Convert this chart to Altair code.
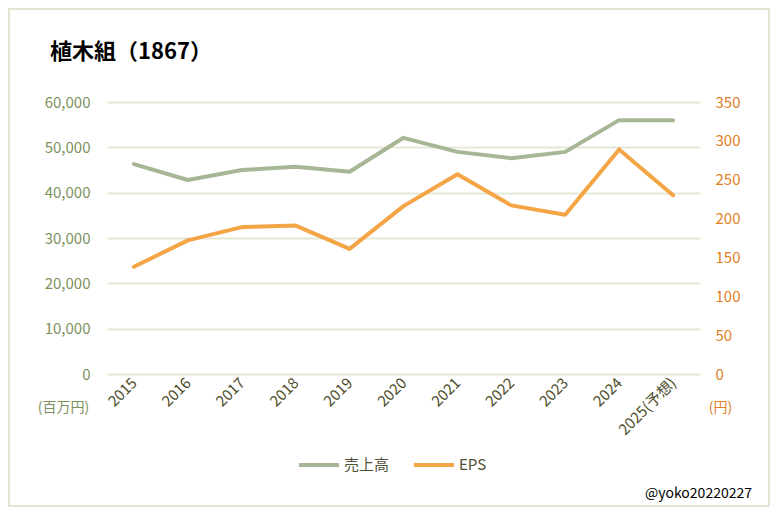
import altair as alt
import pandas as pd

years = ["2015", "2016", "2017", "2018", "2019", "2020", "2021", "2022", "2023", "2024", "2025(予想)"]
sales = [46300, 42800, 45000, 45700, 44600, 52100, 49000, 47600, 49000, 56000, 56000]
eps = [138, 172, 189, 191, 161, 216, 257, 217, 205, 289, 230]
series_names = ["売上高", "EPS"]
series_colors = ["#A7B694", "#F4A546"]

title_text = "植木組（1867）"
credit_text = "@yoko20220227"

df = pd.DataFrame({"year": years, "sales": sales, "eps": eps})
df["s1"] = series_names[0]
df["s2"] = series_names[1]

W, H = 593, 272
FONT = "Noto Sans CJK JP"

color_scale = alt.Scale(domain=series_names, range=series_colors)
x_enc = alt.X("year:O", sort=years, title=None,
              scale=alt.Scale(padding=0.5),
              axis=alt.Axis(labelAngle=-45, labelColor="#4D4D2B", labelFontSize=15,
                            labelFont=FONT, domain=False, ticks=False, labelPadding=6,
                            labelAlign="right", labelBaseline="middle"))

legend = alt.Legend(title=None, orient="none", legendX=190, legendY=341, direction="horizontal",
                    symbolType="stroke", symbolStrokeWidth=4, symbolSize=1600,
                    labelFontSize=15, labelFont=FONT, labelColor="#505036",
                    columnPadding=16, labelOffset=3)

sales_line = alt.Chart(df).mark_line(strokeWidth=4, strokeCap="round", strokeJoin="round").encode(
    x=x_enc,
    y=alt.Y("sales:Q", scale=alt.Scale(domain=[0, 60000]),
            axis=alt.Axis(values=[0, 10000, 20000, 30000, 40000, 50000, 60000], format=",.0f",
                          labelColor="#7D915E", labelFontSize=15, labelFont=FONT,
                          domain=False, ticks=False, labelPadding=17,
                          grid=True, gridColor="#E6E8D6", gridWidth=2,
                          title="(百万円)", titleAngle=0, titleX=-44, titleY=305,
                          titleColor="#7D915E", titleFontSize=14, titleFontWeight="normal",
                          titleFont=FONT, titleAlign="center", titleBaseline="middle")),
    color=alt.Color("s1:N", scale=color_scale, legend=legend),
)

eps_line = alt.Chart(df).mark_line(strokeWidth=4, strokeCap="round", strokeJoin="round").encode(
    x=x_enc,
    y=alt.Y("eps:Q", scale=alt.Scale(domain=[0, 350]),
            axis=alt.Axis(orient="right", values=[0, 50, 100, 150, 200, 250, 300, 350],
                          labelColor="#E0801F", labelFontSize=15, labelFont=FONT,
                          domain=False, ticks=False, labelPadding=15, grid=False,
                          title="(円)", titleAngle=0, titleX=20, titleY=305,
                          titleColor="#E0801F", titleFontSize=14, titleFontWeight="normal",
                          titleFont=FONT, titleAlign="center", titleBaseline="middle")),
    color=alt.Color("s2:N", scale=color_scale, legend=legend),
)

one = pd.DataFrame({"t": [title_text], "c": [credit_text]})
frame = alt.Chart(one).mark_rect(fillOpacity=0, stroke="#E3E5D3", strokeWidth=2).encode(
    x=alt.value(-98), x2=alt.value(662), y=alt.value(-93), y2=alt.value(404))
title = alt.Chart(one).mark_text(align="left", baseline="alphabetic", fontSize=22,
                                 fontWeight="bold", font=FONT, color="#000000").encode(
    text="t:N", x=alt.value(-57), y=alt.value(-43))
credit = alt.Chart(one).mark_text(align="right", baseline="alphabetic", fontSize=14,
                                  font=FONT, color="#000000").encode(
    text="c:N", x=alt.value(645), y=alt.value(396))

chart = alt.layer(frame, sales_line, eps_line, title, credit).resolve_scale(
    y="independent"
).properties(
    width=W, height=H,
    autosize=alt.AutoSizeParams(type="none"),
    padding={"left": 99, "top": 94, "right": 70, "bottom": 135},
    background="white",
).configure_view(stroke=None)

chart.save("out.html", embed_options={"renderer": "svg", "actions": False})
